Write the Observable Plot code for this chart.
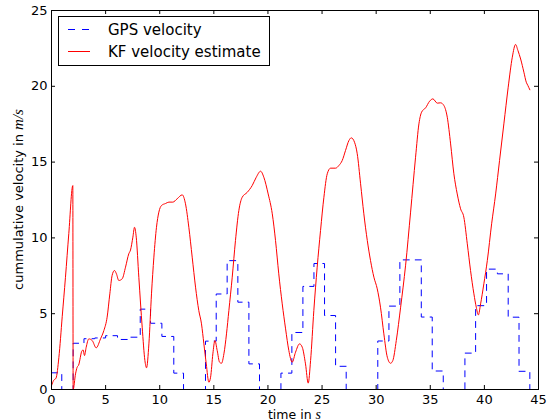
<!DOCTYPE html>
<html><head><meta charset="utf-8">
<script src="https://cdn.jsdelivr.net/npm/d3@7"></script>
<script src="https://cdn.jsdelivr.net/npm/@observablehq/plot@0.6"></script>
<style>body{margin:0;background:#fff}</style>
</head><body><div id="chart"></div>
<script>
// ---- data ----
const seriesNames = ["GPS velocity", "KF velocity estimate"];
const xTicks = [0, 5, 10, 15, 20, 25, 30, 35, 40, 45];
const yTicks = [0, 5, 10, 15, 20, 25];

const gpsTime = [0, 0.95, 2.0, 3.0, 4.0, 5.0, 6.1, 7.1, 8.2, 9.15, 10.2, 11.3, 12.2, 14.23, 15.22, 16.23, 17.22, 18.24, 19.22,
  21.2, 22.21, 23.23, 24.25, 25.23, 26.25, 27.23, 30.15, 31.18, 32.19, 34.17, 35.18, 36.2, 38.2, 39.19, 40.2, 41.2, 42.2, 43.2, 44.2];
const gpsVelocity = [1.1, 0, 3.05, 3.35, 3.4, 3.55, 3.3, 3.45, 5.3, 4.37, 3.5, 1.08, 0, 3.19, 6.3, 8.5, 5.76, 1.69, 0,
  1.08, 3.76, 6.8, 8.31, 4.88, 1.53, 0, 3.2, 5.5, 8.55, 4.78, 1.22, 0, 2.4, 5.53, 7.94, 7.63, 4.77, 1.2, 0];

const kfTime = [0, 0.2, 0.42, 0.68, 0.99, 1.29, 1.6, 1.97, 2.0, 2.22, 2.37, 2.5, 2.83, 2.93, 3.05, 3.2, 3.45, 3.76, 4.13, 4.53,
  4.84, 5.14, 5.39, 5.6, 5.82, 6.0, 6.22, 6.53, 6.84, 7.14, 7.3, 7.52, 7.67, 7.83, 8.07, 8.38, 8.63, 8.78, 9.0, 9.24,
  9.46, 9.7, 9.92, 10.17, 10.54, 10.85, 11.21, 11.61, 12.08, 12.38, 12.69, 13.0, 13.31, 13.61, 13.86, 14.08, 14.3, 14.54, 14.7, 14.91,
  15.1, 15.31, 15.53, 15.71, 15.93, 16.17, 16.39, 16.7, 17.0, 17.31, 17.62, 18.08, 18.55, 18.92, 19.32, 19.62, 20.02, 20.4, 20.7, 21.0,
  21.32, 21.63, 21.93, 22.24, 22.55, 22.92, 23.17, 23.47, 23.72, 23.94, 24.24, 24.55, 24.86, 25.17, 25.48, 25.79, 26.25, 26.56, 26.86, 27.17,
  27.48, 27.7, 28.0, 28.25, 28.56, 28.86, 29.18, 29.48, 29.79, 30.1, 30.4, 30.71, 31.03, 31.33, 31.54, 31.86, 32.26, 32.72, 33.18, 33.64,
  33.95, 34.2, 34.57, 34.94, 35.24, 35.65, 35.95, 36.26, 36.57, 36.88, 37.18, 37.49, 37.8, 38.1, 38.42, 38.72, 39.03, 39.25, 39.44, 39.65,
  39.95, 40.27, 40.67, 41.04, 41.4, 41.8, 42.2, 42.58, 42.88, 43.1, 43.35, 43.65, 43.87, 44.02, 44.2];
const kfVelocity = [0.25, 0.6, 0.75, 2.1, 4.8, 7.4, 10.3, 13.45, 0.0, 1.03, 1.47, 1.6, 2.57, 2.6, 2.24, 2.77, 3.34, 3.23, 2.75, 3.34,
  3.89, 4.77, 6.31, 7.52, 7.85, 7.63, 7.19, 7.3, 8.07, 8.95, 9.2, 10.05, 10.7, 10.05, 7.4, 4.11, 1.91, 1.43, 3.01, 6.31,
  8.73, 10.7, 11.7, 12.14, 12.27, 12.36, 12.36, 12.58, 12.84, 12.25, 10.7, 8.73, 6.75, 5.21, 4.33, 3.01, 1.69, 0.48, 0.81, 2.35,
  3.23, 2.57, 1.8, 1.73, 2.35, 3.67, 5.21, 7.41, 9.83, 11.8, 12.68, 13.0, 13.46, 14.0, 14.4, 14.0, 12.9, 11.59, 9.83, 7.63,
  5.65, 4.0, 2.57, 1.8, 2.46, 3.01, 2.79, 1.69, 0.42, 1.91, 5.21, 8.07, 10.49, 12.68, 14.23, 14.6, 14.6, 14.78, 15.1, 15.77,
  16.42, 16.6, 16.31, 15.55, 13.57, 11.59, 9.83, 8.5, 7.41, 6.64, 5.43, 3.67, 2.13, 1.73, 1.91, 3.23, 5.43, 8.2, 11.7, 15.32,
  17.52, 18.3, 18.58, 19.02, 19.17, 18.89, 18.91, 18.73, 17.96, 16.2, 14.23, 12.9, 11.92, 11.37, 9.61, 7.85, 6.31, 5.43, 4.92, 5.65,
  6.97, 8.5, 10.93, 12.9, 15.1, 17.52, 19.94, 21.92, 22.76, 22.36, 21.8, 20.93, 20.27, 20.05, 19.77];

// ---- layout ----
const W = 554, H = 420, mL = 51, mR = 16, mT = 10, mB = 31;
const innerW = W - mL - mR, innerH = H - mT - mB;
const gps = gpsTime.map((t, i) => ({t, v: gpsVelocity[i]}));
const kf = kfTime.map((t, i) => ({t, v: kfVelocity[i]}));
const colors = ["#0000ff", "#ff0000"];

const plot = Plot.plot({
  width: W, height: H,
  marginLeft: mL, marginRight: mR, marginTop: mT, marginBottom: mB,
  style: {fontFamily: "'DejaVu Sans', sans-serif", fontSize: "13px", background: "white", color: "black", overflow: "visible"},
  x: {domain: [0, 45]},
  y: {domain: [0, 25]},
  marks: [
    Plot.line(gps, {x: "t", y: "v", curve: "step-after", stroke: colors[0], strokeWidth: 1, strokeDasharray: "6,6"}),
    Plot.line(kf, {x: "t", y: "v", curve: "monotone-x", stroke: colors[1], strokeWidth: 1}),
    Plot.frame({stroke: "black"}),
    Plot.tickX(xTicks, {x: d => d, insetTop: innerH - 4, stroke: "black"}),
    Plot.tickX(xTicks, {x: d => d, insetBottom: innerH - 4, stroke: "black"}),
    Plot.tickY(yTicks, {y: d => d, insetRight: innerW - 4, stroke: "black"}),
    Plot.tickY(yTicks, {y: d => d, insetLeft: innerW - 4, stroke: "black"}),
    Plot.axisX({ticks: xTicks, tickSize: 0, tickPadding: 5, label: null, tickFormat: d => String(d), fill: "black"}),
    Plot.axisY({ticks: yTicks, tickSize: 0, tickPadding: 4, label: null, tickFormat: d => String(d), fill: "black"})
  ]
});
document.getElementById("chart").appendChild(plot);

// ---- axis titles (with math italic units) ----
const svg = d3.select(plot);
const xl = svg.append("text")
  .attr("x", mL + innerW / 2).attr("y", 418.5)
  .attr("text-anchor", "middle").attr("fill", "black")
  .style("font-family", "'DejaVu Sans', sans-serif").style("font-size", "12.5px");
xl.append("tspan").text("time in ");
xl.append("tspan").text("s").style("font-family", "'Liberation Serif', serif").style("font-style", "italic").style("font-size", "14px");

const yl = svg.append("text")
  .attr("transform", `translate(18,${mT + innerH / 2}) rotate(-90)`)
  .attr("dy", "0.35em")
  .attr("text-anchor", "middle").attr("fill", "black")
  .style("font-family", "'DejaVu Sans', sans-serif").style("font-size", "13px");
yl.append("tspan").text("cummulative velocity in ");
yl.append("tspan").text("m/s").style("font-family", "'Liberation Serif', serif").style("font-style", "italic").style("font-size", "15px");

// ---- legend ----
const lg = svg.append("g");
lg.append("rect").attr("x", 58.5).attr("y", 16.5).attr("width", 211).attr("height", 49)
  .attr("fill", "white").attr("stroke", "black");
seriesNames.forEach((name, i) => {
  const cy = 29.5 + i * 22;
  const ln = lg.append("line").attr("x1", 68).attr("x2", 90).attr("y1", cy).attr("y2", cy)
    .attr("stroke", colors[i]).attr("stroke-width", 1);
  if (i === 0) ln.attr("stroke-dasharray", "7,7");
  lg.append("text").attr("x", 108).attr("y", cy).attr("dy", "0.36em")
    .attr("text-anchor", "start").attr("fill", "black")
    .style("font-family", "'DejaVu Sans', sans-serif").style("font-size", "15px")
    .text(name);
});
</script>
</body></html>
